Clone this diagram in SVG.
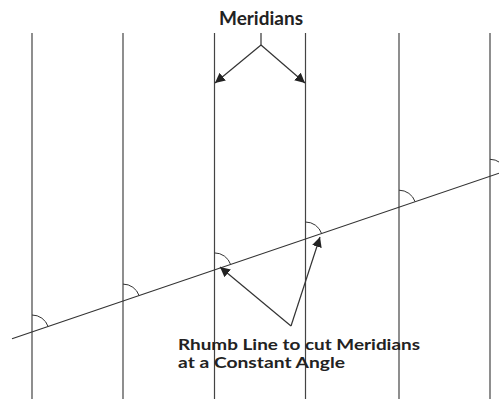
<svg xmlns="http://www.w3.org/2000/svg" width="499" height="399" viewBox="0 0 499 399">
<defs>
<marker id="ah" viewBox="0 0 10 10" refX="10" refY="5" markerWidth="10" markerHeight="10" markerUnits="userSpaceOnUse" orient="auto">
<path d="M0,0 L10,5 L0,10 z" fill="#222"/>
</marker>
<style>
.m{stroke:#444;stroke-width:1.2;fill:none}
.r{stroke:#333;stroke-width:1.2;fill:none}
.a{stroke:#333;stroke-width:1.2;fill:none}
.arc{stroke:#333;stroke-width:1;fill:none}
.t{font-family:"Lato","Liberation Sans",sans-serif;font-size:16px;font-weight:bold;fill:#222}
</style>
</defs>
<rect width="499" height="399" fill="#fff"/>
<g id="meridians">
<line class="m" x1="32" y1="33" x2="32" y2="399"/>
<line class="m" x1="123" y1="33" x2="123" y2="399"/>
<line class="m" x1="214.5" y1="33" x2="214.5" y2="399"/>
<line class="m" x1="305.5" y1="33" x2="305.5" y2="399"/>
<line class="m" x1="399" y1="33" x2="399" y2="399"/>
<line class="m" x1="490" y1="33" x2="490" y2="399"/>
</g>
<g id="rhumb-line">
<line class="r" x1="12" y1="338.8" x2="499" y2="173.2"/>
</g>
<g id="angles">
<path class="arc" d="M32,315 A17,17 0 0 1 48.1,326.5"/>
<path class="arc" d="M123,284.1 A17,17 0 0 1 139.1,295.6"/>
<path class="arc" d="M214.5,252.9 A17,17 0 0 1 230.6,264.4"/>
<path class="arc" d="M305.5,222 A17,17 0 0 1 321.6,233.5"/>
<path class="arc" d="M399,190.2 A17,17 0 0 1 415.1,201.7"/>
<path class="arc" d="M490,159.3 A17,17 0 0 1 506.1,170.8"/>
</g>
<g id="label-meridians">
<text class="t" x="219" y="25" textLength="84" lengthAdjust="spacingAndGlyphs" style="font-size:18px">Meridians</text>
</g>
<g id="label-rhumb">
<text class="t" x="178" y="350" textLength="242" lengthAdjust="spacingAndGlyphs">Rhumb Line to cut Meridians</text>
<text class="t" x="178" y="368" textLength="167" lengthAdjust="spacingAndGlyphs">at a Constant Angle</text>
</g>
<g id="connectors">
<line class="a" x1="261" y1="33" x2="261" y2="45"/>
<line class="a" x1="261" y1="45" x2="215" y2="83" marker-end="url(#ah)"/>
<line class="a" x1="261" y1="45" x2="305" y2="83" marker-end="url(#ah)"/>
<line class="a" x1="291" y1="326" x2="220" y2="267" marker-end="url(#ah)"/>
<line class="a" x1="291" y1="326" x2="320" y2="237" marker-end="url(#ah)"/>
</g>
</svg>
